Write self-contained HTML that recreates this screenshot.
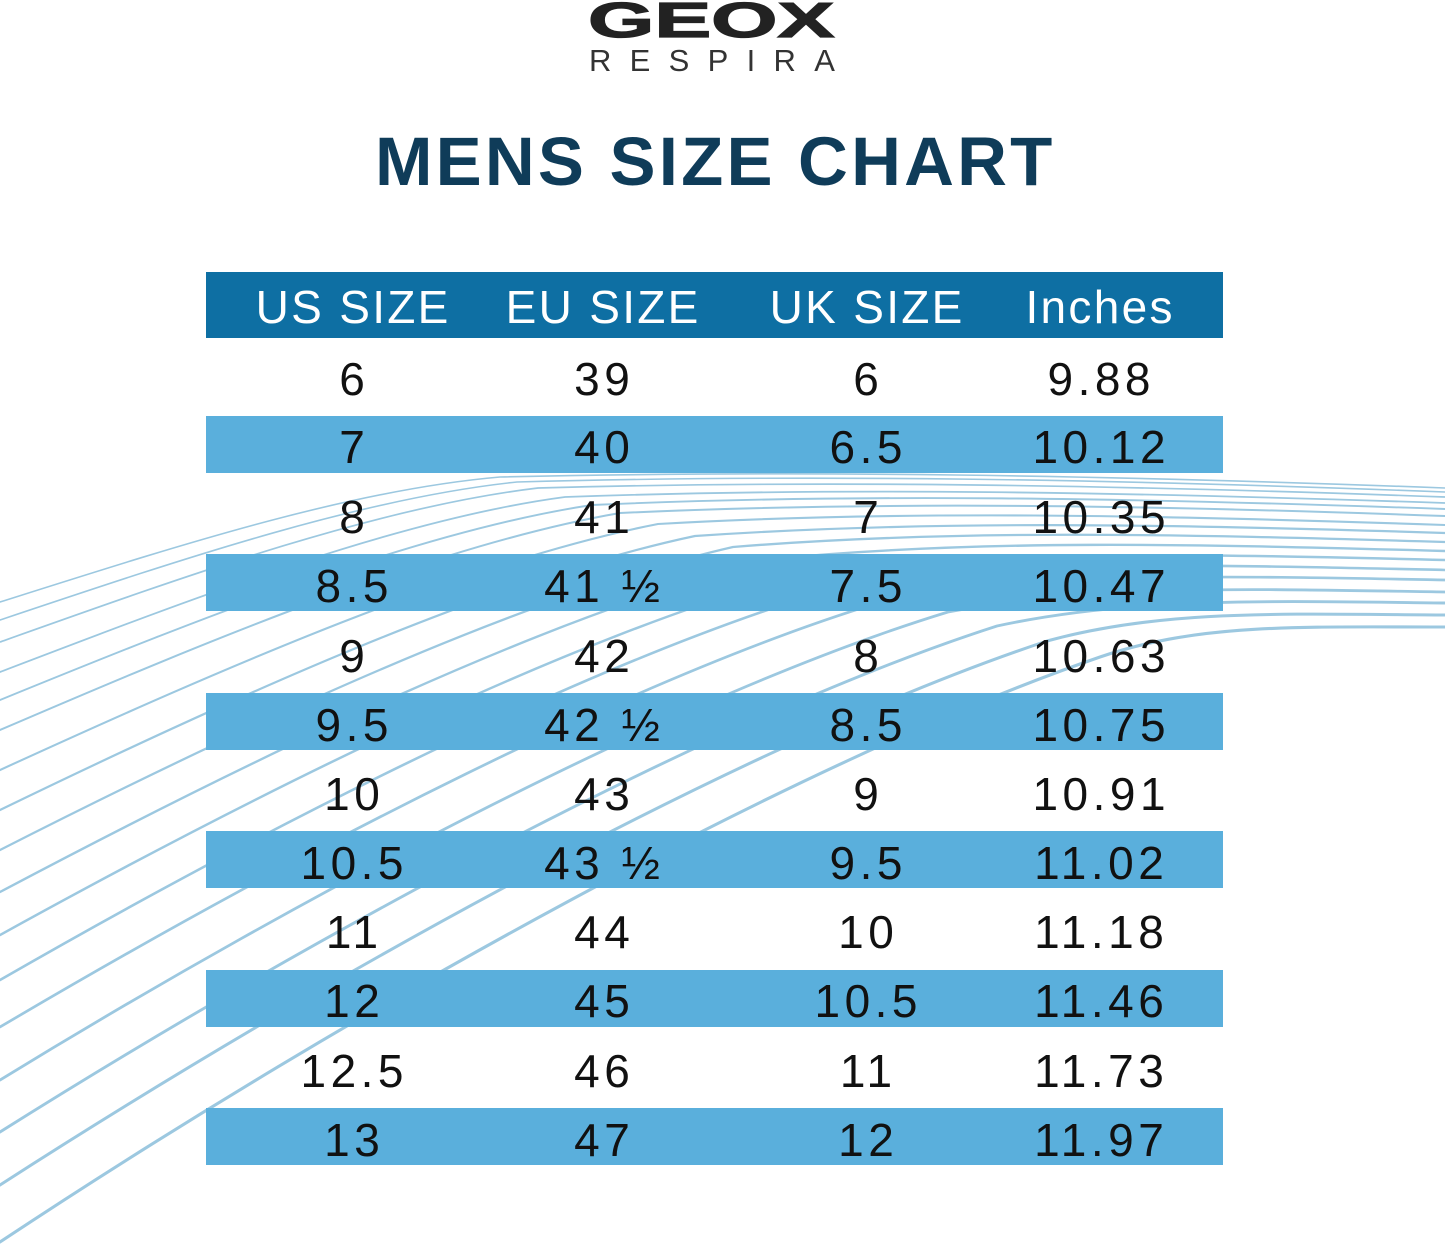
<!DOCTYPE html>
<html>
<head>
<meta charset="utf-8">
<style>
  html,body{margin:0;padding:0;background:#fff;}
  body{width:1445px;height:1250px;position:relative;overflow:hidden;font-family:"Liberation Sans",Arial,sans-serif;}
  .abs{position:absolute;}
  .band{position:absolute;left:206px;width:1017px;height:57px;background:#5aafdc;}
  .hdr{position:absolute;left:206px;top:272px;width:1017px;height:66px;background:#0e6fa3;}
  .row{position:absolute;left:0;width:1445px;height:60px;}
  .cell{position:absolute;top:0;width:300px;height:60px;line-height:60px;text-align:center;font-size:46px;color:#111;letter-spacing:4.5px;padding-left:4.5px;box-sizing:border-box;white-space:nowrap;}
  .h{color:#fff;letter-spacing:2.3px;padding-left:2.3px;}
  .c1{left:202px;} .c2{left:452px;} .c3{left:716px;} .c4{left:949px;}
</style>
</head>
<body>

<!-- wave lines -->
<svg class="abs" style="left:0;top:0" width="1445" height="1250" viewBox="0 0 1445 1250">
  <g fill="none" stroke="#9cc8e0" stroke-linecap="round">
    <path stroke-width="1.6" d="M0,602 C180,545 350,490 500,477 C800,470 1100,475 1445,488"/>
    <path stroke-width="1.6" d="M0,620 C185,558 363,498 517,482 C811,474 1106,479 1445,492"/>
    <path stroke-width="1.7" d="M0,642 C191,574 378,507 538,488 C825,480 1113,485 1445,497"/>
    <path stroke-width="1.8" d="M0,672 C199,596 399,519 565,497 C844,487 1122,492 1445,503"/>
    <path stroke-width="1.9" d="M0,700 C206,616 419,531 592,505 C861,493 1131,498 1445,509"/>
    <path stroke-width="2.0" d="M0,730 C214,638 440,544 620,513 C880,501 1140,505 1445,516"/>
    <path stroke-width="2.1" d="M0,770 C225,667 468,561 658,524 C905,510 1153,515 1445,525"/>
    <path stroke-width="2.2" d="M0,810 C235,696 496,578 695,536 C930,520 1165,524 1445,533"/>
    <path stroke-width="2.3" d="M0,850 C246,725 524,595 733,547 C955,529 1178,534 1445,542"/>
    <path stroke-width="2.4" d="M0,892 C257,756 554,612 772,559 C981,539 1191,544 1445,551"/>
    <path stroke-width="2.5" d="M0,935 C268,787 584,630 812,571 C1008,550 1204,554 1445,560"/>
    <path stroke-width="2.6" d="M0,980 C280,819 616,649 854,583 C1036,560 1218,565 1445,570"/>
    <path stroke-width="2.7" d="M0,1027 C293,854 649,669 898,597 C1066,572 1233,576 1445,580"/>
    <path stroke-width="2.8" d="M0,1080 C307,892 686,692 948,612 C1099,584 1249,589 1445,592"/>
    <path stroke-width="2.9" d="M0,1132 C321,930 723,714 997,626 C1131,597 1266,601 1445,603"/>
    <path stroke-width="3.0" d="M0,1185 C335,969 760,736 1047,641 C1164,609 1282,614 1445,615"/>
    <path stroke-width="3.1" d="M0,1242 C350,1010 800,760 1100,657 C1200,623 1300,627 1445,627"/>
  </g>
</svg>

<!-- logo -->
<div class="abs" style="left:588px;top:-3px;font-size:49px;line-height:49px;font-weight:bold;color:#222;transform:scaleX(1.74);transform-origin:0 0;-webkit-text-stroke:1.2px #222;white-space:nowrap;">GEOX</div>
<div class="abs" style="left:589px;top:45px;font-size:31px;line-height:31px;color:#333;letter-spacing:18.3px;white-space:nowrap;">RESPIRA</div>

<!-- title -->
<div class="abs" style="left:375px;top:127px;font-size:69px;line-height:69px;font-weight:bold;color:#0f3c59;letter-spacing:3.2px;white-space:nowrap;">MENS SIZE CHART</div>

<!-- table backgrounds -->
<div class="hdr"></div>
<div class="band" style="top:416px"></div>
<div class="band" style="top:554px"></div>
<div class="band" style="top:693px"></div>
<div class="band" style="top:831px"></div>
<div class="band" style="top:970px"></div>
<div class="band" style="top:1108px"></div>

<!-- header text -->
<div class="row" style="top:277px">
  <div class="cell h c1">US SIZE</div>
  <div class="cell h c2">EU SIZE</div>
  <div class="cell h c3">UK SIZE</div>
  <div class="cell h c4">Inches</div>
</div>

<!-- rows -->
<div class="row" style="top:349px"><div class="cell c1">6</div><div class="cell c2">39</div><div class="cell c3">6</div><div class="cell c4">9.88</div></div>
<div class="row" style="top:417px"><div class="cell c1">7</div><div class="cell c2">40</div><div class="cell c3">6.5</div><div class="cell c4">10.12</div></div>
<div class="row" style="top:487px"><div class="cell c1">8</div><div class="cell c2">41</div><div class="cell c3">7</div><div class="cell c4">10.35</div></div>
<div class="row" style="top:556px"><div class="cell c1">8.5</div><div class="cell c2">41 ½</div><div class="cell c3">7.5</div><div class="cell c4">10.47</div></div>
<div class="row" style="top:626px"><div class="cell c1">9</div><div class="cell c2">42</div><div class="cell c3">8</div><div class="cell c4">10.63</div></div>
<div class="row" style="top:695px"><div class="cell c1">9.5</div><div class="cell c2">42 ½</div><div class="cell c3">8.5</div><div class="cell c4">10.75</div></div>
<div class="row" style="top:764px"><div class="cell c1">10</div><div class="cell c2">43</div><div class="cell c3">9</div><div class="cell c4">10.91</div></div>
<div class="row" style="top:833px"><div class="cell c1">10.5</div><div class="cell c2">43 ½</div><div class="cell c3">9.5</div><div class="cell c4">11.02</div></div>
<div class="row" style="top:902px"><div class="cell c1">11</div><div class="cell c2">44</div><div class="cell c3">10</div><div class="cell c4">11.18</div></div>
<div class="row" style="top:971px"><div class="cell c1">12</div><div class="cell c2">45</div><div class="cell c3">10.5</div><div class="cell c4">11.46</div></div>
<div class="row" style="top:1041px"><div class="cell c1">12.5</div><div class="cell c2">46</div><div class="cell c3">11</div><div class="cell c4">11.73</div></div>
<div class="row" style="top:1110px"><div class="cell c1">13</div><div class="cell c2">47</div><div class="cell c3">12</div><div class="cell c4">11.97</div></div>

</body>
</html>
